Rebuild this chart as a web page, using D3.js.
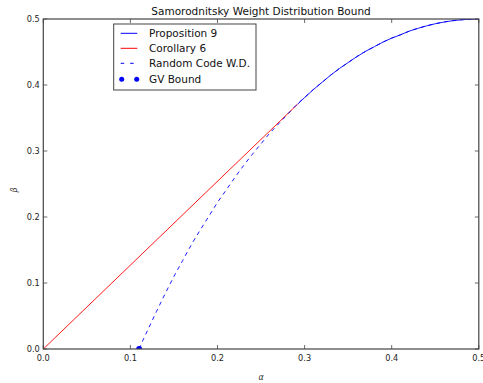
<!DOCTYPE html>
<html><head><meta charset="utf-8">
<script src="https://cdn.jsdelivr.net/npm/d3@7"></script>
<style>body{margin:0;background:#fff}svg{display:block}text{font-family:"DejaVu Sans",sans-serif}</style>
</head><body>
<script>
// Random code weight distribution (alpha, beta)
const randomAlpha = [0.110,0.115,0.12,0.13,0.14,0.15,0.16,0.17,0.18,0.19,0.20,0.21,0.22,0.23,0.24,0.25,0.26,0.27,0.28,0.29,0.30,0.31,0.32,0.33,0.34,0.35,0.36,0.37,0.38,0.39,0.40,0.41,0.42,0.43,0.44,0.45,0.46,0.47,0.48,0.49,0.50];
const randomBeta  = [0.000,0.015,0.029,0.057,0.084,0.110,0.134,0.158,0.180,0.201,0.222,0.241,0.260,0.278,0.295,0.311,0.327,0.341,0.355,0.369,0.381,0.393,0.404,0.415,0.425,0.434,0.443,0.451,0.458,0.465,0.471,0.476,0.4815,0.4858,0.4896,0.4928,0.4954,0.4974,0.4988,0.4997,0.500];
// Proposition 9 (coincides with random code for large alpha)
const propAlpha = [0.292,0.30,0.31,0.32,0.33,0.34,0.35,0.36,0.37,0.38,0.39,0.40,0.41,0.42,0.43,0.44,0.45,0.46,0.47,0.48,0.49,0.50];
const propBeta  = [0.371,0.381,0.393,0.404,0.415,0.425,0.434,0.443,0.451,0.458,0.465,0.471,0.476,0.4815,0.4858,0.4896,0.4928,0.4954,0.4974,0.4988,0.4997,0.500];
// Corollary 6 (straight line)
const corAlpha = [0.0, 0.292];
const corBeta  = [0.0, 0.371];
// GV bound point
const gvAlpha = [0.11];
const gvBeta  = [0.0];
const ticks = [0.0,0.1,0.2,0.3,0.4,0.5];
const legendLabels = ["Proposition 9","Corollary 6","Random Code W.D.","GV Bound"];

const W=483,H=383;
const m={l:43.3,r:478.8,t:19,b:349};
const svg=d3.select("body").append("svg").attr("width",W).attr("height",H);
const x=d3.scaleLinear().domain([0,0.5]).range([m.l,m.r]);
const y=d3.scaleLinear().domain([0,0.5]).range([m.b,m.t]);

svg.append("defs").append("clipPath").attr("id","clip").append("rect")
  .attr("x",m.l).attr("y",m.t).attr("width",m.r-m.l).attr("height",m.b-m.t);

const g=svg.append("g").attr("clip-path","url(#clip)");
const line=d3.line().x(d=>x(d[0])).y(d=>y(d[1])).curve(d3.curveMonotoneX);
const zip=(a,b)=>a.map((v,i)=>[v,b[i]]);

g.append("path").datum(zip(propAlpha,propBeta)).attr("d",line)
  .attr("fill","none").attr("stroke","#0000ff").attr("stroke-width",0.9);
g.append("path").datum(zip(corAlpha,corBeta)).attr("d",line)
  .attr("fill","none").attr("stroke","#ff0000").attr("stroke-width",0.9);
g.append("path").datum(zip(randomAlpha,randomBeta)).attr("d",line)
  .attr("fill","none").attr("stroke","#0000ff").attr("stroke-width",0.9).attr("stroke-dasharray","4,4");
g.selectAll("circle.gv").data(zip(gvAlpha,gvBeta)).enter().append("circle")
  .attr("cx",d=>x(d[0])).attr("cy",d=>y(d[1])).attr("r",3).attr("fill","#0000ff");

// axes
const ax=svg.append("g").attr("stroke","#444").attr("stroke-width",1.2).attr("fill","none");
ax.append("rect").attr("x",m.l).attr("y",m.t).attr("width",m.r-m.l).attr("height",m.b-m.t);
const tl=4;
ticks.forEach(t=>{
  ax.append("line").attr("x1",x(t)).attr("x2",x(t)).attr("y1",m.b).attr("y2",m.b-tl).attr("stroke-width",0.8);
  ax.append("line").attr("x1",x(t)).attr("x2",x(t)).attr("y1",m.t).attr("y2",m.t+tl).attr("stroke-width",0.8);
  ax.append("line").attr("y1",y(t)).attr("y2",y(t)).attr("x1",m.l).attr("x2",m.l+tl).attr("stroke-width",0.8);
  ax.append("line").attr("y1",y(t)).attr("y2",y(t)).attr("x1",m.r).attr("x2",m.r-tl).attr("stroke-width",0.8);
});
const fmt=d3.format(".1f");
svg.selectAll("text.xt").data(ticks).enter().append("text")
  .attr("x",d=>x(d)).attr("y",m.b+12).attr("text-anchor","middle").attr("font-size",8.2).attr("fill","#222").text(fmt);
svg.selectAll("text.yt").data(ticks).enter().append("text")
  .attr("x",m.l-3.5).attr("y",d=>y(d)+3).attr("text-anchor","end").attr("font-size",8.2).attr("fill","#222").text(fmt);

svg.append("text").attr("x",(m.l+m.r)/2).attr("y",15).attr("text-anchor","middle")
  .attr("font-size",10.5).attr("fill","#111").text("Samorodnitsky Weight Distribution Bound");
svg.append("text").attr("x",x(0.25)).attr("y",380).attr("text-anchor","middle")
  .attr("font-size",8).attr("font-style","italic").attr("font-family","DejaVu Serif").attr("fill","#333").text("α");
svg.append("text").attr("transform","translate(17,190) rotate(-90)").attr("text-anchor","middle")
  .attr("font-size",8).attr("font-style","italic").attr("font-family","DejaVu Serif").attr("fill","#333").text("β");

// legend
const lg=svg.append("g");
lg.append("rect").attr("x",113.7).attr("y",24).attr("width",142.3).attr("height",66)
  .attr("fill","#fff").attr("stroke","#444").attr("stroke-width",1);
const rows=[33.3,48.3,63.3,79.3];
lg.append("line").attr("x1",120.7).attr("x2",137.3).attr("y1",rows[0]).attr("y2",rows[0]).attr("stroke","#0000ff");
lg.append("line").attr("x1",120.7).attr("x2",137.3).attr("y1",rows[1]).attr("y2",rows[1]).attr("stroke","#ff0000");
lg.append("line").attr("x1",120.7).attr("x2",137.3).attr("y1",rows[2]).attr("y2",rows[2]).attr("stroke","#0000ff").attr("stroke-dasharray","3.5,6");
[121.7,136.7].forEach(cx=>lg.append("circle").attr("cx",cx).attr("cy",rows[3]).attr("r",2.5).attr("fill","#0000ff"));
legendLabels.forEach((t,i)=>lg.append("text").attr("x",149).attr("y",rows[i]+3.8).attr("font-size",10.5).attr("fill","#111").text(t));
</script>
</body></html>
